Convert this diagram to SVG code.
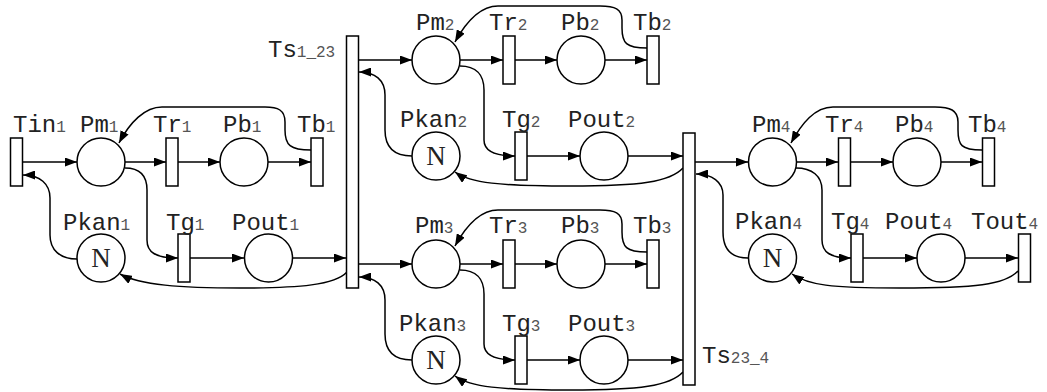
<svg xmlns="http://www.w3.org/2000/svg" width="1047" height="392" viewBox="0 0 1047 392">
<style>
.p{fill:#fff;stroke:#000;stroke-width:1.5}
.t{fill:#fff;stroke:#000;stroke-width:1.5}
.l{font-family:"Liberation Mono","DejaVu Sans Mono",monospace;font-size:24px;fill:#222}
.s{font-size:16px;fill:#555}
.n{font-family:"Liberation Serif","DejaVu Serif",serif;font-size:27px;fill:#222;text-anchor:middle}
#arcs path{fill:none;stroke:#000;stroke-width:1.5;marker-end:url(#ah)}
</style>
<defs>
<marker id="ah" viewBox="0 0 12 9" markerWidth="12" markerHeight="9" refX="12" refY="4.5" orient="auto" markerUnits="userSpaceOnUse">
<path d="M0,0 L12,4.5 L0,9 z" fill="#000"/>
</marker>
</defs>
<rect width="1047" height="392" fill="#fff"/>
<g id="arcs">
<path d="M22,162 L77,162"/>
<path d="M125,162 L166,162"/>
<path d="M178,162 L220,162"/>
<path d="M268,162 L311,162"/>
<path d="M311,150 C290,150 285,145 285,130 L285,122 C285,110 278,107 265,107 L162,107 C145,107 130,122 119,143"/>
<path d="M125,168 C140,168 147,175 147,190 L147,240 C147,252 155,258 178,258"/>
<path d="M190,258 L244,258"/>
<path d="M293,258 L346,258"/>
<path d="M347,272 C335,285 300,288 240,288 C180,288 140,285 120,274"/>
<path d="M77,259 C60,259 50,250 50,235 L50,198 C50,184 40,175 23,175"/>
<path d="M358,60 L412,60"/>
<path d="M460,60 L503,60"/>
<path d="M515,60 L557,60"/>
<path d="M605,60 L647,60"/>
<path d="M647,48 C626,48 622,43 622,28 L622,20 C622,9 615,6 600,6 L498,6 C480,6 466,22 455,42"/>
<path d="M460,66 C476,66 484,75 484,90 L484,140 C484,150 492,156 515,156"/>
<path d="M527,156 L580,156"/>
<path d="M628,156 L683,156"/>
<path d="M683,168 C670,182 640,186 570,186 C500,186 470,183 455,172"/>
<path d="M412,156 C395,156 385,148 385,130 L385,95 C385,80 375,72 359,72"/>
<path d="M358,264 L412,264"/>
<path d="M460,264 L503,264"/>
<path d="M515,264 L557,264"/>
<path d="M605,264 L647,264"/>
<path d="M647,252 C626,252 622,247 622,232 L622,224 C622,213 615,210 600,210 L498,210 C480,210 466,226 455,246"/>
<path d="M460,270 C476,270 484,279 484,294 L484,344 C484,354 492,360 515,360"/>
<path d="M527,360 L580,360"/>
<path d="M628,360 L683,360"/>
<path d="M683,372 C670,386 640,390 570,390 C500,390 470,387 455,376"/>
<path d="M412,360 C395,360 385,352 385,334 L385,300 C385,285 375,277 359,277"/>
<path d="M695,162 L748,162"/>
<path d="M797,162 L838,162"/>
<path d="M850,162 L893,162"/>
<path d="M941,162 L982,162"/>
<path d="M982,150 C961,150 958,145 958,130 L958,122 C958,110 950,107 935,107 L833,107 C815,107 802,123 791,143"/>
<path d="M796,168 C812,168 822,176 822,190 L822,240 C822,252 830,258 851,258"/>
<path d="M863,258 L917,258"/>
<path d="M965,258 L1018,258"/>
<path d="M1018,271 C1005,285 975,288 900,288 C830,288 808,285 792,274"/>
<path d="M748,258 C732,258 723,250 723,232 L723,195 C723,182 712,174 696,174"/>
</g>
<g id="Ts1_23"><rect class="t" x="346.5" y="36" width="12" height="252"/><text class="l" x="268" y="57">Ts<tspan class="s">1_23</tspan></text></g>
<g id="Ts23_4"><rect class="t" x="683" y="133" width="12" height="252"/><text class="l" x="702" y="363">Ts<tspan class="s">23_4</tspan></text></g>

<g id="Tin1"><rect class="t" x="10.5" y="138" width="12" height="48"/><text class="l" x="13" y="132">Tin<tspan class="s">1</tspan></text></g>
<g id="Pm1"><circle class="p" cx="101" cy="162" r="24"/><text class="l" x="80" y="132">Pm<tspan class="s">1</tspan></text></g>
<g id="Tr1"><rect class="t" x="166" y="138" width="12" height="48"/><text class="l" x="153" y="132">Tr<tspan class="s">1</tspan></text></g>
<g id="Pb1"><circle class="p" cx="244" cy="162" r="24"/><text class="l" x="223" y="132">Pb<tspan class="s">1</tspan></text></g>
<g id="Tb1"><rect class="t" x="311" y="138" width="12" height="48"/><text class="l" x="297" y="132">Tb<tspan class="s">1</tspan></text></g>
<g id="Pkan1"><circle class="p" cx="101" cy="258" r="24"/><text class="n" x="101" y="267">N</text><text class="l" x="63" y="230">Pkan<tspan class="s">1</tspan></text></g>
<g id="Tg1"><rect class="t" x="178" y="234" width="12" height="48"/><text class="l" x="166" y="230">Tg<tspan class="s">1</tspan></text></g>
<g id="Pout1"><circle class="p" cx="268.5" cy="258" r="24"/><text class="l" x="232" y="230">Pout<tspan class="s">1</tspan></text></g>

<g id="Pm2"><circle class="p" cx="436" cy="60" r="24"/><text class="l" x="416" y="30">Pm<tspan class="s">2</tspan></text></g>
<g id="Tr2"><rect class="t" x="503" y="36" width="12" height="48"/><text class="l" x="489" y="30">Tr<tspan class="s">2</tspan></text></g>
<g id="Pb2"><circle class="p" cx="581" cy="60" r="24"/><text class="l" x="561" y="30">Pb<tspan class="s">2</tspan></text></g>
<g id="Tb2"><rect class="t" x="647" y="36" width="12" height="48"/><text class="l" x="633" y="30">Tb<tspan class="s">2</tspan></text></g>
<g id="Pkan2"><circle class="p" cx="436" cy="156" r="24"/><text class="n" x="436" y="165">N</text><text class="l" x="400" y="127">Pkan<tspan class="s">2</tspan></text></g>
<g id="Tg2"><rect class="t" x="515" y="132" width="12" height="48"/><text class="l" x="502" y="127">Tg<tspan class="s">2</tspan></text></g>
<g id="Pout2"><circle class="p" cx="604" cy="156" r="24"/><text class="l" x="568" y="127">Pout<tspan class="s">2</tspan></text></g>

<g id="Pm3"><circle class="p" cx="436" cy="264" r="24"/><text class="l" x="415" y="233">Pm<tspan class="s">3</tspan></text></g>
<g id="Tr3"><rect class="t" x="503" y="240" width="12" height="48"/><text class="l" x="489" y="233">Tr<tspan class="s">3</tspan></text></g>
<g id="Pb3"><circle class="p" cx="581" cy="264" r="24"/><text class="l" x="561" y="233">Pb<tspan class="s">3</tspan></text></g>
<g id="Tb3"><rect class="t" x="647" y="240" width="12" height="48"/><text class="l" x="633" y="233">Tb<tspan class="s">3</tspan></text></g>
<g id="Pkan3"><circle class="p" cx="436" cy="360" r="24"/><text class="n" x="436" y="369">N</text><text class="l" x="399" y="331">Pkan<tspan class="s">3</tspan></text></g>
<g id="Tg3"><rect class="t" x="515" y="336" width="12" height="48"/><text class="l" x="502" y="331">Tg<tspan class="s">3</tspan></text></g>
<g id="Pout3"><circle class="p" cx="604" cy="360" r="24"/><text class="l" x="568" y="331">Pout<tspan class="s">3</tspan></text></g>

<g id="Pm4"><circle class="p" cx="772.5" cy="162" r="24"/><text class="l" x="752" y="132">Pm<tspan class="s">4</tspan></text></g>
<g id="Tr4"><rect class="t" x="838.5" y="138" width="12" height="48"/><text class="l" x="825" y="132">Tr<tspan class="s">4</tspan></text></g>
<g id="Pb4"><circle class="p" cx="917" cy="162" r="24"/><text class="l" x="895" y="132">Pb<tspan class="s">4</tspan></text></g>
<g id="Tb4"><rect class="t" x="982.5" y="138" width="12" height="48"/><text class="l" x="968" y="132">Tb<tspan class="s">4</tspan></text></g>
<g id="Pkan4"><circle class="p" cx="772.5" cy="258" r="24"/><text class="n" x="772.5" y="267">N</text><text class="l" x="735" y="229">Pkan<tspan class="s">4</tspan></text></g>
<g id="Tg4"><rect class="t" x="851" y="234" width="12" height="48"/><text class="l" x="831" y="229">Tg<tspan class="s">4</tspan></text></g>
<g id="Pout4"><circle class="p" cx="941" cy="258" r="24"/><text class="l" x="885" y="229">Pout<tspan class="s">4</tspan></text></g>
<g id="Tout4"><rect class="t" x="1018.5" y="234" width="12" height="48"/><text class="l" x="971" y="229">Tout<tspan class="s">4</tspan></text></g>
</svg>
